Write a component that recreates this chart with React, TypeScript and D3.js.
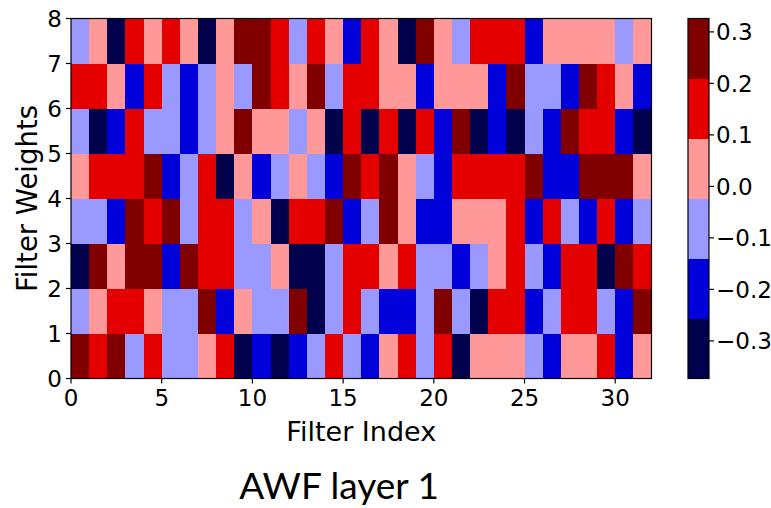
import React from "react";
import * as d3 from "d3";

// weights[row][col], row 0 = bottom (Filter Weights 0..1)
const weights: number[][] = [
  [0.27,0.15,0.27,-0.08,0.15,-0.08,-0.08,0.03, 0.15,-0.32,-0.2,-0.32,-0.2,-0.08,0.15,-0.08, -0.2,0.03,0.15,-0.08,0.15,-0.32,0.03,0.03, 0.03,-0.08,-0.2,0.03,0.03,0.15,-0.2,0.03],
  [-0.08,0.03,0.15,0.15,0.03,-0.08,-0.08,0.27, -0.2,0.03,-0.08,-0.08,0.27,-0.32,-0.08,0.15, -0.08,-0.2,-0.2,-0.08,0.27,-0.08,-0.32,0.15, 0.15,-0.2,-0.08,0.15,0.15,-0.08,-0.2,0.27],
  [-0.32,0.27,0.03,0.27,0.27,-0.2,0.27,0.15, 0.15,-0.08,-0.08,0.03,-0.32,-0.32,-0.08,0.15, 0.15,0.03,0.15,-0.08,-0.08,-0.2,-0.08,0.03, 0.15,-0.08,-0.2,0.15,0.15,-0.32,0.27,0.15],
  [-0.08,-0.08,-0.2,0.27,0.15,0.27,-0.08,0.15, 0.15,-0.08,0.03,-0.32,0.15,0.15,0.27,-0.2, -0.08,0.27,0.03,-0.2,-0.2,0.03,0.03,0.03, 0.15,-0.2,0.15,-0.08,-0.2,0.15,-0.2,-0.08],
  [0.03,0.15,0.15,0.15,0.27,-0.2,-0.08,0.15, -0.32,0.03,-0.2,-0.08,0.03,-0.08,-0.2,0.27, 0.15,0.27,0.03,-0.08,-0.2,0.15,0.15,0.15, 0.15,0.27,-0.2,-0.2,0.27,0.27,0.27,0.03],
  [-0.08,-0.32,-0.2,0.15,-0.08,-0.08,-0.2,-0.08, 0.03,0.27,0.03,0.03,-0.08,0.03,-0.32,0.15, -0.32,0.15,-0.32,0.15,-0.2,0.27,-0.32,-0.2, -0.32,-0.08,-0.2,0.27,0.15,0.15,-0.2,-0.32],
  [0.15,0.15,0.03,-0.2,0.15,-0.08,-0.2,-0.08, 0.03,-0.08,0.27,0.15,0.03,0.27,-0.08,0.15, 0.15,0.03,0.03,-0.2,0.03,0.03,0.03,-0.2, 0.27,-0.08,-0.08,-0.2,0.27,0.15,0.03,-0.2],
  [-0.08,0.03,-0.32,0.15,0.03,0.15,0.03,-0.32, 0.03,0.27,0.27,0.15,-0.08,0.15,0.03,-0.2, 0.15,0.03,-0.32,0.27,0.03,-0.08,0.15,0.15, 0.15,-0.2,0.03,0.03,0.03,0.03,-0.08,0.03],
];

const vMin = -0.373;
const vMax = 0.326;
const bandColors = ["#00004c", "#0000db", "#9999ff", "#ff9999", "#e50000", "#800000"];
const xTicks = [0, 5, 10, 15, 20, 25, 30];
const yTicks = [0, 1, 2, 3, 4, 5, 6, 7, 8];
const cbTicks = [0.3, 0.2, 0.1, 0.0, -0.1, -0.2, -0.3];
const nCols = 32;
const nRows = 8;

const W = 771, H = 508;
const plot = { left: 71, right: 651.5, top: 18.5, bottom: 378.5 };
const cb = { left: 688, right: 709 };

const fmt = (v: number) => {
  const s = Math.abs(v).toFixed(1);
  return v < -1e-9 ? "\u2212" + s : s;
};

export default function App() {
  const x = d3.scaleLinear().domain([0, nCols]).range([plot.left, plot.right]);
  const y = d3.scaleLinear().domain([0, nRows]).range([plot.bottom, plot.top]);
  const step = (vMax - vMin) / bandColors.length;
  const thresholds = d3.range(1, bandColors.length).map((i) => vMin + i * step);
  const color = d3.scaleThreshold<number, string>().domain(thresholds).range(bandColors);
  const cy = d3.scaleLinear().domain([vMin, vMax]).range([plot.bottom, plot.top]);
  const bandEdges = [vMin, ...thresholds, vMax];

  const tickFont = "DejaVu Sans, sans-serif";
  const cells: JSX.Element[] = [];
  weights.forEach((row, r) => {
    row.forEach((v, c) => {
      const x0 = x(c), x1 = x(c + 1);
      const y0 = y(r + 1), y1 = y(r);
      cells.push(
        <rect key={`${r}-${c}`} x={x0} y={y0} width={x1 - x0 + 0.4} height={y1 - y0 + 0.4} fill={color(v)} />
      );
    });
  });

  return (
    <svg width={W} height={H} style={{ position: "absolute", left: 0, top: 0, background: "#fff" }}>
      <rect x={0} y={0} width={W} height={H} fill="#fff" />
      <g shapeRendering="crispEdges">{cells}</g>
      <rect x={plot.left} y={plot.top} width={plot.right - plot.left} height={plot.bottom - plot.top}
        fill="none" stroke="#000" strokeWidth={1.2} />
      {xTicks.map((t) => (
        <g key={"x" + t}>
          <line x1={x(t)} x2={x(t)} y1={plot.bottom} y2={plot.bottom + 5} stroke="#000" strokeWidth={1.2} />
          <text x={x(t)} y={plot.bottom + 27} textAnchor="middle" fontFamily={tickFont} fontSize={23} fill="#000">{t}</text>
        </g>
      ))}
      {yTicks.map((t) => (
        <g key={"y" + t}>
          <line x1={plot.left - 5} x2={plot.left} y1={y(t)} y2={y(t)} stroke="#000" strokeWidth={1.2} />
          <text x={plot.left - 9} y={y(t)} dy="0.36em" textAnchor="end" fontFamily={tickFont} fontSize={23} fill="#000">{t}</text>
        </g>
      ))}
      <text x={(plot.left + plot.right) / 2} y={441} textAnchor="middle" fontFamily={tickFont} fontSize={27} fill="#000">Filter Index</text>
      <text transform={`translate(37,${(plot.top + plot.bottom) / 2}) rotate(-90)`} textAnchor="middle" fontFamily={tickFont} fontSize={27.5} fill="#000">Filter Weights</text>

      <g shapeRendering="crispEdges">
        {bandColors.map((c, i) => (
          <rect key={"cb" + i} x={cb.left} y={cy(bandEdges[i + 1])} width={cb.right - cb.left}
            height={cy(bandEdges[i]) - cy(bandEdges[i + 1]) + 0.4} fill={c} />
        ))}
      </g>
      <rect x={cb.left} y={plot.top} width={cb.right - cb.left} height={plot.bottom - plot.top} fill="none" stroke="#000" strokeWidth={1.2} />
      {cbTicks.map((t) => (
        <g key={"c" + t}>
          <line x1={cb.right} x2={cb.right + 5} y1={cy(t)} y2={cy(t)} stroke="#000" strokeWidth={1.2} />
          <text x={cb.right + 7} y={cy(t)} dy="0.36em" fontFamily={tickFont} fontSize={23} fill="#000">{fmt(t)}</text>
        </g>
      ))}
      <text x={339} y={499} textAnchor="middle" fontFamily="Lato, sans-serif" fontSize={37} fill="#000">AWF layer 1</text>
    </svg>
  );
}
